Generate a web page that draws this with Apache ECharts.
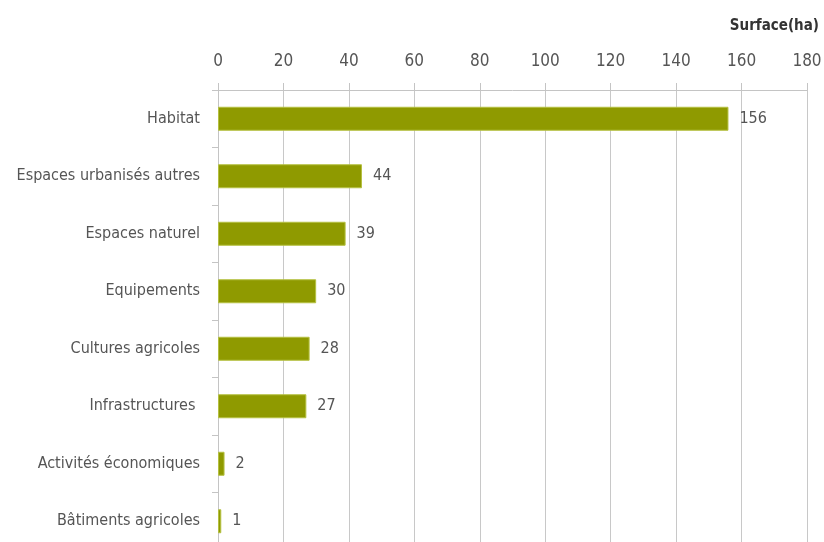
<!DOCTYPE html>
<html>
<head>
<meta charset="utf-8">
<script src="https://cdn.jsdelivr.net/npm/echarts@6/dist/echarts.min.js"></script>
<style>html,body{margin:0;padding:0;background:#fff;}#c{width:824px;height:542px;}</style>
</head>
<body>
<div id="c"></div>
<script>
const categories = ["Habitat", "Espaces urbanisés autres", "Espaces naturel", "Equipements", "Cultures agricoles", "Infrastructures ", "Activités économiques", "Bâtiments agricoles"];
const values = [156, 44, 39, 30, 28, 27, 2, 1];
const axisTitle = "Surface(ha)";

const FONT = "'Liberation Sans Narrow', 'DejaVu Sans Condensed', 'Roboto', sans-serif";
const chart = echarts.init(document.getElementById('c'), null, {renderer: 'canvas'});
chart.setOption({
  animation: false,
  backgroundColor: '#ffffff',
  title: {
    text: axisTitle,
    right: 0,
    top: 14,
    textStyle: {fontFamily: FONT, fontSize: 15, fontWeight: 'bold', color: '#333'}
  },
  grid: {left: 218, top: 90, width: 589, height: 460, containLabel: false, outerBoundsMode: 'none'},
  xAxis: {
    type: 'value',
    position: 'top',
    min: 0, max: 180, interval: 20,
    axisLine: {show: true, lineStyle: {color: '#c4c4c4', width: 1}},
    axisTick: {show: true, length: 7, lineStyle: {color: '#c4c4c4'}},
    splitLine: {show: true, lineStyle: {color: '#c8c8c8', width: 1}},
    axisLabel: {fontFamily: FONT, fontSize: 17, color: '#555', margin: 20}
  },
  yAxis: {
    type: 'category',
    data: categories,
    inverse: true,
    axisLine: {show: true, lineStyle: {color: '#c4c4c4'}},
    axisTick: {show: true, length: 6, lineStyle: {color: '#c4c4c4'}},
    axisLabel: {fontFamily: FONT, fontSize: 16, color: '#555', margin: 18}
  },
  series: [{
    type: 'bar',
    data: values,
    barWidth: 24,
    itemStyle: {color: '#8f9a00', borderColor: '#b5c040', borderWidth: 1},
    label: {show: true, position: 'right', distance: 11, fontFamily: FONT, fontSize: 16, color: '#555'}
  }]
});
</script>
</body>
</html>
